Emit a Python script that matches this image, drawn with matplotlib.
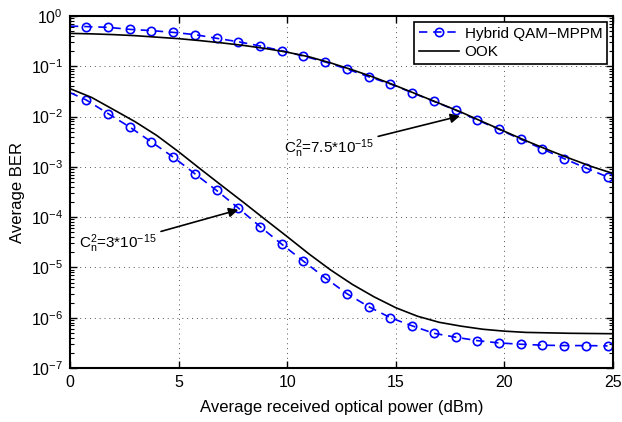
import matplotlib
matplotlib.use("Agg")
import matplotlib.pyplot as plt
from matplotlib.ticker import NullFormatter

plt.rcParams['font.family'] = ['Liberation Sans', 'DejaVu Sans']
plt.rcParams['mathtext.fontset'] = 'custom'
plt.rcParams['mathtext.rm'] = 'Liberation Sans'
plt.rcParams['mathtext.it'] = 'Liberation Sans'
plt.rcParams['mathtext.bf'] = 'Liberation Sans'

# received power (dBm)
power = list(range(0, 26))
power_hybrid = [0] + [k + 0.75 for k in range(25)]

# Hybrid QAM-MPPM, Cn^2 = 7.5e-15 and 3e-15
ber_hybrid_strong = [0.63, 0.617, 0.596, 0.543, 0.513, 0.473, 0.427, 0.361, 0.308,
                     0.254, 0.204, 0.160, 0.122, 0.0883, 0.0621, 0.0445, 0.0299,
                     0.0201, 0.0135, 8.55e-3, 5.58e-3, 3.54e-3, 2.27e-3, 1.46e-3,
                     9.5e-4, 6.3e-4]
ber_hybrid_weak = [3.0e-2, 2.14e-2, 1.15e-2, 6.2e-3, 3.13e-3, 1.57e-3, 7.3e-4, 3.4e-4,
                   1.52e-4, 6.5e-5, 2.9e-5, 1.33e-5, 6.2e-6, 3.0e-6, 1.66e-6, 1.0e-6,
                   6.9e-7, 4.9e-7, 4.1e-7, 3.5e-7, 3.15e-7, 2.97e-7, 2.84e-7, 2.79e-7,
                   2.79e-7, 2.75e-7]

# OOK, same two turbulence strengths
ber_ook_strong = [0.452, 0.442, 0.427, 0.407, 0.380, 0.355, 0.324, 0.292, 0.260, 0.226,
                  0.191, 0.155, 0.117, 0.0851, 0.0603, 0.0412, 0.0275, 0.0184, 0.0123,
                  7.9e-3, 5.1e-3, 3.3e-3, 2.19e-3, 1.48e-3, 1.02e-3, 7.4e-4]
ber_ook_weak = [3.6e-2, 2.4e-2, 1.38e-2, 7.9e-3, 4.2e-3, 2.0e-3, 9.1e-4, 4.2e-4, 1.95e-4,
                8.9e-5, 4.1e-5, 1.86e-5, 8.9e-6, 4.6e-6, 2.6e-6, 1.58e-6, 1.07e-6,
                8.1e-7, 6.8e-7, 5.9e-7, 5.4e-7, 5.1e-7, 5.0e-7, 4.9e-7, 4.85e-7, 4.8e-7]

fig = plt.figure(figsize=(6.22, 4.22), dpi=100)
ax = fig.add_axes([0.1125, 0.128, 0.873, 0.834])

hyb_style = dict(color='blue', linestyle='--', dashes=(5, 3.5), linewidth=1.2,
                 marker='o', markersize=6, markerfacecolor='none',
                 markeredgecolor='blue', markeredgewidth=1.2, markevery=slice(1, None))
ax.semilogy(power_hybrid, ber_hybrid_strong, label='Hybrid QAM\u2212MPPM', **hyb_style)
ax.semilogy(power, ber_ook_strong, color='black', linewidth=1.2, label='OOK')
ax.semilogy(power_hybrid, ber_hybrid_weak, **hyb_style)
ax.semilogy(power, ber_ook_weak, color='black', linewidth=1.2)

ax.set_xlim(0, 25)
ax.set_ylim(1e-7, 1)
ax.set_xticks([0, 5, 10, 15, 20, 25])
ax.yaxis.set_minor_formatter(NullFormatter())
ax.grid(True, which='major', linestyle=(0, (1, 4)), color='#555555', linewidth=0.7)
ax.tick_params(which='both', direction='in', top=True, right=True, labelsize=11.5)
ax.tick_params(which='major', length=5, width=1, pad=5)
ax.tick_params(which='minor', length=3, width=0.8)
for s in ax.spines.values():
    s.set_linewidth(1.5)

ax.set_xlabel('Average received optical power (dBm)', fontsize=12, labelpad=7)
ax.set_ylabel('Average BER', fontsize=12, labelpad=4)

arrow = dict(arrowstyle='-|>', color='black', linewidth=1.2, mutation_scale=14,
             shrinkA=1, shrinkB=0)
ax.annotate(r'$\mathrm{C}_\mathrm{n}^2$=7.5*10$^{-15}$', xy=(17.96, 1.03e-2),
            xytext=(14.0, 2.3e-3), ha='right', va='center', fontsize=11,
            arrowprops=arrow)
ax.annotate(r'$\mathrm{C}_\mathrm{n}^2$=3*10$^{-15}$', xy=(7.75, 1.4e-4),
            xytext=(4.0, 3.0e-5), ha='right', va='center', fontsize=11,
            arrowprops=arrow)

leg = ax.legend(loc='upper right', fontsize=11, fancybox=False, framealpha=1,
                edgecolor='black', borderaxespad=0.4, handlelength=2.6,
                borderpad=0.3, labelspacing=0.3, handletextpad=0.4)
leg.get_frame().set_linewidth(1.2)

fig.savefig('out.png', dpi=100)
